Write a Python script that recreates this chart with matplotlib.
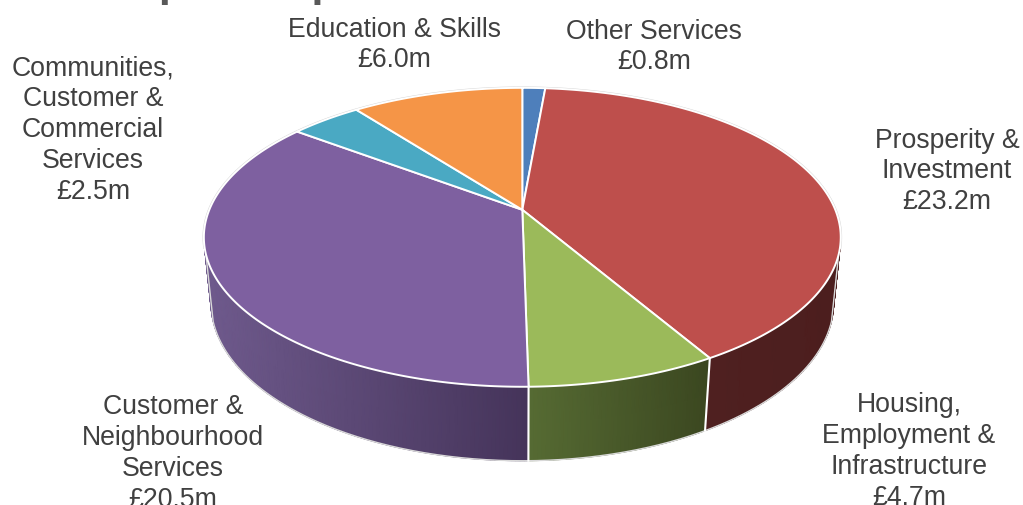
import numpy as np
import matplotlib
matplotlib.use("Agg")
import matplotlib.pyplot as plt
from matplotlib.colors import LinearSegmentedColormap

# ---- data ----
categories = ["Other Services", "Prosperity &\nInvestment", "Housing,\nEmployment &\nInfrastructure",
              "Customer &\nNeighbourhood\nServices", "Communities,\nCustomer &\nCommercial\nServices",
              "Education & Skills"]
values = [0.8, 23.2, 4.7, 20.5, 2.5, 6.0]
top_colors = ["#4e7fbb", "#be4f4c", "#9bba5a", "#7e60a0", "#4aa9c3", "#f59547"]
side_left = ["#2f4d71", "#4f2020", "#566b33", "#6f5a8d", "#2d6678", "#94582a"]
side_right = ["#2f4d71", "#4c1e1e", "#3b4720", "#45345a", "#2d6678", "#94582a"]
label_pos = [(654, 31.5), (947, 140.5), (909, 405.5), (173, 407.5), (93, 68.5), (394, 29.5)]
title = "Capital Expenditure"

W, H = 1023, 506
CX, CY = 522.3, 210.8
A, B, K = 313.0, 144.4, 0.184
W0, E = 1.022, 65.9

def top_xy(t):
    x, y = np.sin(t), np.cos(t)
    d = 1 + K * y
    return CX + A * x / d, CY - B * y / d

def bot_xy(t):
    x, y = np.sin(t), np.cos(t)
    d = W0 + K * y
    return CX + A * x / d, CY - (B * y - E) / d

fig = plt.figure(figsize=(W / 100, H / 100), dpi=100)
ax = fig.add_axes([0, 0, 1, 1])
ax.set_xlim(0, W)
ax.set_ylim(H, 0)
ax.axis("off")

fr = np.cumsum([0] + values) / sum(values) * 2 * np.pi
WHITE = "#ffffff"

# side walls (front part), smooth left-to-right shading per slice
for i in range(len(values)):
    a0, a1 = fr[i], fr[i + 1]
    ts = np.linspace(a0, a1, max(2, int((a1 - a0) * 90)))
    ts = ts[np.cos(ts) < 0.35]
    if len(ts) < 2:
        continue
    xt, yt = top_xy(ts)
    xb, yb = bot_xy(ts)
    X = np.vstack([xt, xb])
    Y = np.vstack([yt, yb])
    lo, hi = X.min(), X.max()
    cmap = LinearSegmentedColormap.from_list(f"wall{i}", [side_left[i], side_right[i]])
    ax.pcolormesh(X, Y, (X - lo) / max(hi - lo, 1), shading="gouraud", cmap=cmap,
                  vmin=0, vmax=1, zorder=2)

# hair-line outline of the base and its two silhouette edges
t_l, t_r = np.radians(253), np.radians(107)
ts = np.linspace(t_r, t_l, 300)
bx, by = bot_xy(ts)
xr, yr = top_xy(t_r)
xl, yl = top_xy(t_l)
ax.plot(np.r_[xr, bx, xl], np.r_[yr, by, yl], color="#d9d9d9", lw=1.0, zorder=3)

# wall dividers
for a in fr[1:]:
    if np.cos(a) < -0.05:
        xa, ya = top_xy(a)
        xb, yb = bot_xy(a)
        ax.plot([xa, xb], [ya, yb], color=WHITE, lw=1.5, zorder=3)

# faint grey rim behind the back of the top face
ts = np.linspace(-np.pi * 0.58, np.pi * 0.58, 300)
rx, ry = top_xy(ts)
ax.plot(rx, ry, color="#d4d4d4", lw=2.0, zorder=3)

# top face
for i in range(len(values)):
    ts = np.linspace(fr[i], fr[i + 1], 200)
    x, y = top_xy(ts)
    ax.fill(np.r_[CX, x], np.r_[CY, y], fc=top_colors[i], ec=WHITE, lw=1.4,
            joinstyle="round", zorder=4)

# labels
for name, val, (lx, ly) in zip(categories, values, label_pos):
    lines = name.split("\n") + [f"£{val:.1f}m"]
    for k, line in enumerate(lines):
        ax.text(lx, ly + k * 30.8, line, ha="center", va="center", fontsize=19.2,
                family="Liberation Sans", color="#404040", zorder=5)

# title, almost entirely cut off by the top of the canvas
ax.text(104, -4, title, ha="left", va="baseline", fontsize=31, fontweight="bold",
        family="Liberation Sans", color="#595959", zorder=5)

fig.savefig("out.png", dpi=100)
